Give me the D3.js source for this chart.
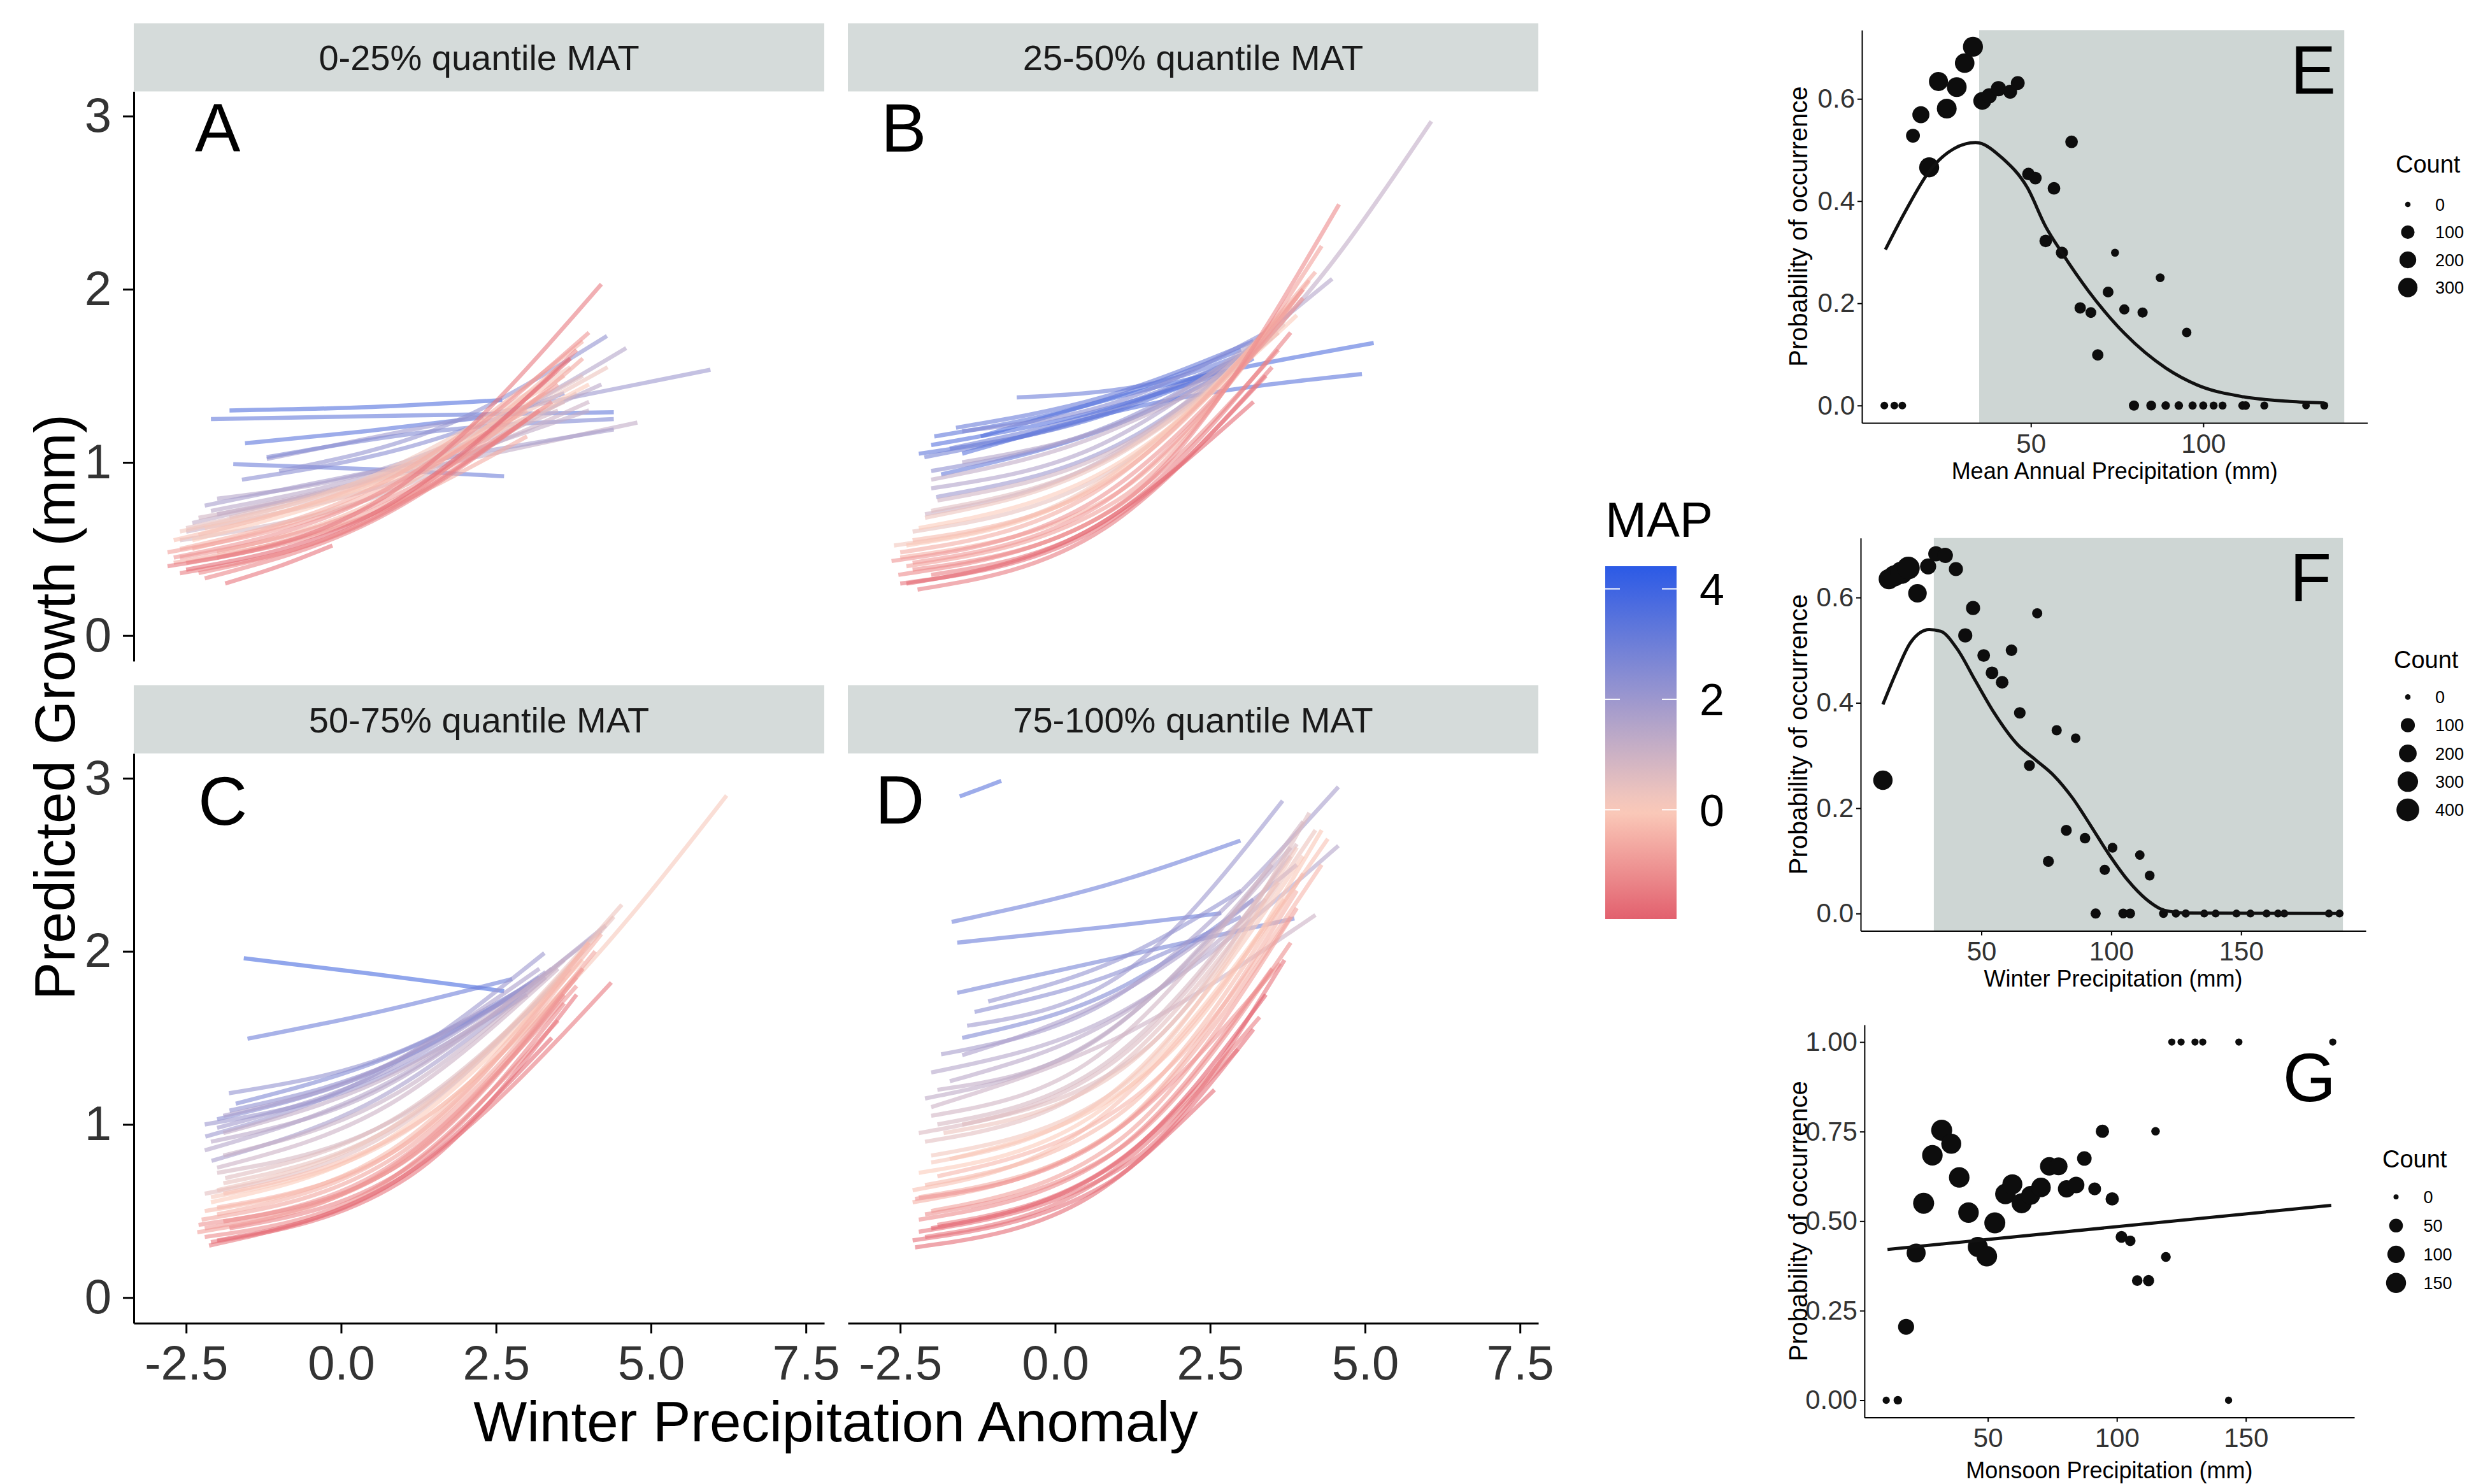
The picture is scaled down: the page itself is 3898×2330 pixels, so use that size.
<!DOCTYPE html>
<html><head><meta charset="utf-8">
<script src="https://cdn.jsdelivr.net/npm/d3@7"></script>
<style>
body{margin:0;background:#fff;}
text{font-family:"Liberation Sans",Arial,Helvetica,sans-serif;}
</style>
</head><body>
<script>
// ===================== DATA =====================
const facetLabels = ["0-25% quantile MAT","25-50% quantile MAT","50-75% quantile MAT","75-100% quantile MAT"];
const facetLetters = ["A","B","C","D"];
const growthXTicks = [-2.5,0,2.5,5,7.5];
const growthXTickLabels = ["-2.5","0.0","2.5","5.0","7.5"];
const growthYTicks = [0,1,2,3];
const growthYTickLabels = ["0","1","2","3"];
const mapLegendTicks = [4,2,0];

// each line: [MAP, x1,y1, x2,y2, x3,y3 (,x4,y4)]  (Winter precip anomaly, predicted growth)
const linesA = [
 [3.6,-1.8,1.30,0.5,1.32,2.6,1.36],
 [3.2,-2.1,1.25,1.0,1.27,4.4,1.29],
 [3.4,-1.55,1.11,0.4,1.18,2.3,1.26],
 [3.0,-1.74,0.99,0.5,0.96,2.63,0.92],
 [2.0,-1.2,1.02,2.4,1.28,5.96,1.535],
 [2.6,-1.2,1.03,1.5,1.18,4.4,1.25],
 [2.4,-1.6,0.90,1.0,1.08,3.6,1.40],
 [2.2,-1.0,0.95,1.6,1.20,4.29,1.73],
 [1.5,-2.0,0.79,1.0,1.00,4.6,1.66],
 [1.4,-2.1,0.72,1.0,0.98,4.2,1.45],
 [1.2,-2.4,0.65,0.8,0.92,4.78,1.23],
 [1.8,-2.2,0.75,1.0,0.98,4.4,1.19],
 [1.0,-2.5,0.60,0.8,0.88,4.0,1.35],
 [0.9,-2.3,0.68,0.5,0.90,3.5,1.30],
 [0.8,-2.6,0.55,0.7,0.82,3.8,1.40],
 [1.2,-2.0,0.70,1.0,0.95,4.0,1.30],
 [0.6,-1.8,0.68,1.0,0.98,3.9,1.50],
 [0.5,-2.5,0.62,0.6,0.90,3.6,1.35],
 [0.3,-2.3,0.58,1.0,0.95,4.3,1.55],
 [0.2,-2.6,0.60,0.5,0.92,3.7,1.55],
 [0.1,-2.2,0.62,0.3,0.85,3.3,1.40],
 [0.0,-2.4,0.55,0.8,0.90,4.0,1.45],
 [-0.2,-2.7,0.55,0.4,0.88,3.6,1.50],
 [-0.3,-2.0,0.48,0.8,0.82,3.5,1.55],
 [-0.4,-2.4,0.50,0.0,0.75,3.0,1.30],
 [-0.5,-2.6,0.50,0.5,0.85,3.9,1.70],
 [-0.6,-2.7,0.42,0.2,0.66,3.0,1.15],
 [-0.7,-2.0,0.45,1.2,0.85,3.9,1.60],
 [-0.8,-2.8,0.48,0.5,0.80,3.5,1.45],
 [-0.9,-2.6,0.45,0.2,0.70,2.8,1.20],
 [-1.0,-2.7,0.45,0.6,0.82,4.0,1.75],
 [-1.0,-2.5,0.42,0.5,0.70,3.4,1.35],
 [-1.2,-2.3,0.36,0.8,0.74,3.8,1.65],
 [-1.3,-2.2,0.33,0.5,0.66,3.2,1.30],
 [-1.4,-2.6,0.36,0.2,0.62,3.0,1.25],
 [-1.5,-2.8,0.40,0.7,0.80,4.2,2.03],
 [-1.6,-1.87,0.30,-1.0,0.40,-0.14,0.52],
 [-1.8,-2.5,0.38,0.6,0.72,3.7,1.60]
];
const linesB = [
 [3.0,-0.62,1.375,1.5,1.45,3.0,1.62],
 [3.3,-1.95,1.15,0.5,1.33,3.0,1.65],
 [3.3,-2.2,1.05,0.3,1.22,3.0,1.58],
 [2.9,-1.7,1.08,0.8,1.30,3.1,1.62],
 [2.8,-2.11,1.03,0.6,1.26,3.1,1.62],
 [3.2,-1.84,0.93,1.0,1.22,3.2,1.60],
 [3.5,-2.0,1.10,0.5,1.28,3.0,1.55],
 [3.1,-1.6,1.20,0.8,1.38,3.2,1.70],
 [3.4,-1.5,1.05,1.7,1.35,4.95,1.51],
 [3.6,-1.2,1.15,1.8,1.45,5.14,1.69],
 [2.5,-1.5,1.18,1.0,1.35,3.4,1.75],
 [2.3,-2.0,0.95,0.8,1.20,3.3,1.68],
 [2.0,-1.92,0.80,1.0,1.10,3.5,1.72],
 [1.6,-2.0,0.85,0.6,1.08,3.3,1.70],
 [1.2,-2.0,0.90,1.0,1.20,3.2,1.65,6.07,2.97],
 [1.5,-1.5,1.00,1.5,1.30,4.47,2.06],
 [1.0,-2.1,0.70,0.7,1.00,3.5,1.78],
 [0.9,-1.9,0.78,1.0,1.08,3.6,1.75],
 [0.6,-2.0,0.72,1.0,1.05,3.7,1.80],
 [0.4,-2.3,0.60,0.9,0.95,3.7,1.82],
 [0.3,-2.1,0.68,0.8,1.00,3.6,1.75],
 [0.2,-2.6,0.52,0.4,0.82,3.8,1.90],
 [0.0,-2.2,0.62,0.8,0.95,3.9,1.85],
 [-0.1,-2.4,0.52,0.6,0.85,3.9,1.95],
 [-0.3,-2.3,0.55,0.8,0.88,4.0,2.00],
 [-0.5,-2.5,0.45,0.8,0.78,4.1,2.05],
 [-0.6,-2.5,0.48,0.6,0.82,4.2,2.10],
 [-0.8,-2.4,0.40,1.0,0.78,4.3,2.25],
 [-0.9,-2.3,0.42,0.7,0.75,4.0,2.00],
 [-1.0,-2.64,0.43,0.5,0.75,4.0,1.95],
 [-1.1,-2.3,0.38,0.6,0.66,3.6,1.65],
 [-1.2,-2.53,0.35,0.9,0.72,4.58,2.49],
 [-1.4,-2.0,0.35,0.8,0.66,3.8,1.75],
 [-1.5,-2.22,0.265,0.8,0.62,3.5,1.55],
 [-1.6,-2.5,0.30,0.6,0.60,3.4,1.50],
 [-1.8,-2.4,0.30,0.5,0.60,3.2,1.35]
];
const linesC = [
 [3.8,-1.57,1.96,0.5,1.87,2.63,1.77],
 [3.0,-1.51,1.495,0.6,1.65,2.76,1.84],
 [2.6,-1.7,1.12,0.7,1.38,3.0,1.78],
 [2.4,-2.0,1.03,0.5,1.30,3.2,1.85],
 [2.3,-1.8,1.08,0.8,1.35,3.1,1.82],
 [2.2,-1.81,1.18,0.8,1.40,3.0,1.80],
 [2.0,-2.19,0.93,0.5,1.28,3.28,1.99],
 [2.0,-2.2,1.00,0.3,1.22,3.0,1.75],
 [1.9,-2.0,0.98,0.8,1.32,3.3,1.88],
 [1.8,-2.09,0.79,0.6,1.15,3.3,1.85],
 [1.7,-1.9,1.05,0.6,1.32,3.2,1.90],
 [1.5,-2.2,0.85,0.8,1.25,4.27,2.15],
 [1.4,-2.1,0.90,0.5,1.18,3.4,1.90],
 [1.2,-1.9,0.95,0.9,1.30,4.2,2.12],
 [1.1,-1.9,0.82,0.9,1.18,3.6,1.95],
 [1.0,-2.0,0.75,0.8,1.12,3.5,1.90],
 [0.8,-2.0,0.72,1.2,1.10,3.7,1.90],
 [0.6,-1.87,0.69,0.8,1.02,3.6,1.85],
 [0.5,-2.2,0.60,0.9,0.98,3.9,2.00],
 [0.4,-1.9,0.66,1.0,1.02,4.4,2.20],
 [0.3,-2.0,0.62,0.8,0.98,4.53,2.27],
 [0.1,-2.1,0.58,1.0,0.95,3.8,1.85,6.22,2.90],
 [0.0,-2.1,0.55,0.6,0.88,3.9,1.95],
 [-0.2,-1.9,0.60,1.4,1.05,3.9,1.90],
 [-0.3,-2.2,0.50,0.8,0.85,4.0,2.05],
 [-0.4,-2.0,0.52,1.1,0.90,4.0,2.05],
 [-0.5,-2.0,0.48,1.0,0.88,4.2,2.10],
 [-0.7,-2.25,0.45,0.9,0.82,4.1,2.00],
 [-0.8,-2.32,0.377,0.8,0.75,3.8,1.85],
 [-0.9,-2.2,0.40,0.9,0.76,3.9,1.90],
 [-1.0,-2.3,0.42,0.6,0.72,3.8,1.80],
 [-1.1,-1.9,0.44,1.0,0.78,3.6,1.75],
 [-1.2,-2.2,0.35,0.5,0.62,3.5,1.60],
 [-1.3,-1.8,0.40,1.2,0.78,3.6,1.70],
 [-1.5,-2.13,0.30,1.0,0.70,4.36,1.82],
 [-1.6,-2.1,0.32,1.1,0.70,3.8,1.75],
 [-1.8,-2.0,0.33,1.0,0.70,3.4,1.50]
];
const linesD = [
 [3.4,-1.54,2.895,-1.2,2.94,-0.87,2.985],
 [3.0,-1.67,2.17,0.8,2.38,2.99,2.64],
 [3.1,-1.58,2.05,0.8,2.14,2.68,2.22],
 [2.8,-1.58,1.76,1.2,1.98,3.86,2.19],
 [2.6,-1.5,1.50,1.0,1.78,3.2,2.30],
 [2.4,-1.3,1.65,0.8,1.85,3.0,2.20],
 [2.2,-1.08,1.71,1.0,1.95,3.0,2.35],
 [2.0,-1.42,1.57,1.0,1.85,3.67,2.87],
 [1.8,-1.84,1.405,0.8,1.70,4.57,2.95],
 [1.7,-1.5,1.40,1.0,1.75,3.9,2.50],
 [1.5,-2.0,1.30,0.8,1.60,4.57,2.61],
 [1.4,-1.7,1.25,1.0,1.62,3.4,2.30],
 [1.3,-2.1,1.15,0.7,1.50,3.8,2.60],
 [1.2,-1.9,1.20,0.5,1.45,3.5,2.50],
 [1.0,-2.0,1.10,1.0,1.50,4.2,2.21],
 [0.9,-2.0,1.05,0.5,1.35,4.0,2.75],
 [0.8,-1.9,1.00,0.8,1.35,3.8,2.55],
 [0.7,-2.2,0.95,0.9,1.35,3.9,2.62],
 [0.6,-1.5,1.00,1.5,1.45,4.1,2.80],
 [0.5,-2.1,0.90,0.6,1.22,3.6,2.40],
 [0.3,-1.8,0.95,1.0,1.30,4.2,2.70],
 [0.2,-2.0,0.82,1.0,1.20,3.9,2.60],
 [0.1,-2.0,0.78,0.8,1.15,4.0,2.55],
 [0.0,-2.2,0.72,0.6,1.05,3.7,2.30],
 [-0.1,-1.7,0.80,1.8,1.40,4.3,2.70],
 [-0.2,-2.3,0.62,0.5,0.98,4.4,2.65],
 [-0.3,-2.1,0.65,1.0,1.05,4.0,2.45],
 [-0.4,-1.9,0.70,1.6,1.25,4.3,2.50],
 [-0.5,-2.3,0.55,0.9,0.95,3.9,2.35],
 [-0.6,-2.2,0.58,0.8,0.92,3.8,2.20],
 [-0.8,-2.0,0.50,1.0,0.90,3.9,2.25],
 [-1.0,-2.26,0.57,0.5,0.85,3.63,1.93],
 [-1.1,-2.1,0.48,1.0,0.85,3.8,2.05],
 [-1.2,-2.2,0.45,0.8,0.80,3.5,1.90],
 [-1.4,-1.9,0.42,0.9,0.76,3.3,1.62],
 [-1.5,-2.1,0.35,0.6,0.65,2.95,1.435],
 [-1.6,-2.2,0.38,1.2,0.78,3.7,1.95],
 [-1.7,-2.3,0.33,0.8,0.65,3.2,1.55],
 [-1.8,-2.26,0.29,0.4,0.55,2.57,1.20],
 [-2.0,-2.0,0.40,1.0,0.78,3.4,1.75]
];

// Panel E: Mean Annual Precipitation
const eX = [7.5,10.4,12.7,15.8,18.1,20.5,23.2,25.6,28.5,30.8,33.2,35.9,37.9,40.6,44.0,46.2,49.3,51.3,56.7,61.8,54.3,59.0,74.4,64.3,67.4,72.4,69.4,77.1,82.4,87.5,95.2,79.9,84.9,89.1,92.9,96.9,100.0,103.0,105.6,111.4,112.3,117.7,129.8,135.1];
const eY = [0,0,0,0.528,0.569,0.466,0.634,0.581,0.623,0.670,0.702,0.596,0.606,0.620,0.614,0.631,0.453,0.445,0.425,0.516,0.322,0.299,0.299,0.191,0.182,0.222,0.099,0.188,0.182,0.250,0.143,0,0,0,0,0,0,0,0,0,0,0,0,0];
const eCount = [8,8,8,110,210,330,290,320,320,310,330,240,150,150,110,110,80,80,80,80,80,70,10,55,45,45,55,35,35,18,25,35,30,15,15,12,12,10,10,15,15,10,7,10];
const eCurveX = [7.8,13.6,20.5,27.8,34.0,41.8,49.0,54.3,58.9,66.7,77.3,89.2,98.3,111.7,125.1,135.1];
const eCurveY = [0.305,0.380,0.458,0.503,0.5145,0.4835,0.426,0.350,0.300,0.224,0.140,0.073,0.040,0.017,0.008,0.005];
const eShade = [35.0,140.9];
const eXTicks = [50,100], eXTickLabels = ["50","100"];
const eYTicks = [0,0.2,0.4,0.6], eYTickLabels = ["0.0","0.2","0.4","0.6"];
const eLegend = [0,100,200,300];

// Panel F: Winter Precipitation
const fX = [12.1,14.4,16.5,19.2,21.9,25.4,29.5,32.5,36.1,40.2,46.8,43.8,50.9,54.1,58.0,61.6,71.5,64.8,79.0,86.3,68.5,82.7,89.9,75.8,100.5,97.5,111.0,114.8,94.0,104.6,107.3,120.1,124.9,128.7,135.8,140.2,148.2,153.6,159.8,164.2,166.6,183.8,187.9];
const fY = [0.253,0.635,0.641,0.647,0.656,0.608,0.659,0.683,0.680,0.654,0.580,0.528,0.490,0.457,0.439,0.500,0.570,0.381,0.348,0.333,0.281,0.158,0.143,0.099,0.125,0.083,0.111,0.072,0,0,0,0,0,0,0,0,0,0,0,0,0,0,0];
const fCount = [260,300,330,380,400,230,150,130,130,100,100,100,70,70,70,50,30,50,30,22,40,40,35,40,25,30,22,25,30,25,25,15,10,10,8,8,8,8,8,8,8,8,8];
const fCurveX = [12.1,17.4,22.8,29.9,34.3,40.6,47.7,54.8,63.7,70.8,77.9,85.0,92.2,99.3,106.4,113.5,120.6,129.5,188.3];
const fCurveY = [0.397,0.460,0.515,0.539,0.536,0.503,0.442,0.382,0.322,0.292,0.262,0.220,0.166,0.111,0.063,0.027,0.006,0.001,0];
const fShade = [31.7,189.2];
const fXTicks = [50,100,150], fXTickLabels = ["50","100","150"];
const fYTicks = [0,0.2,0.4,0.6], fYTickLabels = ["0.0","0.2","0.4","0.6"];
const fLegend = [0,100,200,300,400];

// Panel G: Monsoon Precipitation
const gX = [10.6,15.1,18.3,22.2,25.1,28.5,32.1,35.8,38.9,42.5,46.1,49.6,52.7,56.8,59.5,63.1,66.6,70.6,73.8,77.4,80.5,84.2,87.4,91.4,94.4,98.2,101.8,105.2,107.9,112.3,115.0,119.0,121.3,124.9,130.3,133.3,147.3,183.7,143.3];
const gY = [0,0,0.205,0.411,0.550,0.684,0.754,0.716,0.622,0.524,0.428,0.402,0.495,0.576,0.603,0.550,0.572,0.594,0.653,0.653,0.590,0.601,0.675,0.590,0.751,0.562,0.456,0.445,0.334,0.334,0.751,0.400,1,1,1,1,1,1,0];
const gCount = [3,8,80,130,170,160,170,150,160,160,150,160,170,160,150,150,130,140,120,110,100,90,60,40,45,45,30,20,20,25,8,15,3,3,3,3,3,3,3];
const gLineX = [11.1,183.1];
const gLineY = [0.421,0.544];
const gXTicks = [50,100,150], gXTickLabels = ["50","100","150"];
const gYTicks = [0,0.25,0.5,0.75,1], gYTickLabels = ["0.00","0.25","0.50","0.75","1.00"];
const gLegend = [0,50,100,150];

// ===================== DRAWING =====================
const W = 3898, H = 2330;
const svg = d3.select("body").append("svg").attr("width", W).attr("height", H);
svg.append("rect").attr("width", W).attr("height", H).attr("fill", "#fff");

const FONT = '"Liberation Sans",Arial,Helvetica,sans-serif';
const STRIP = "#D5DBDA";
const pw = 1084, ph = 894.5, stripH = 107;
const panelPos = [[210,143.5],[1331,143.5],[210,1183],[1331,1183]];
const letterPos = [[306,238],[1383,238],[311,1295],[1374,1293]];
const allLines = [linesA, linesB, linesC, linesD];

const x = d3.scaleLinear().domain([-3.345, 7.796]).range([0, pw]);
const y = d3.scaleLinear().domain([-0.148, 3.143]).range([ph, 0]);
const color = d3.scaleLinear().domain([-1.98, 0, 4.41])
  .range(["#E2606E", "#FBCBBA", "#2B5AE6"]).interpolate(d3.interpolateRgb);
const lineGen = d3.line().x(d => x(d[0])).y(d => y(d[1])).curve(d3.curveMonotoneX);

function toPts(row) {
  const pts = [];
  for (let i = 1; i < row.length; i += 2) pts.push([row[i], row[i+1]]);
  return pts;
}

function styleAxis(a, sw, fs, tc) {
  a.select(".domain").attr("stroke", "#000").attr("stroke-width", sw);
  a.selectAll(".tick line").attr("stroke", "#000").attr("stroke-width", sw);
  a.selectAll(".tick text").attr("font-size", fs).attr("fill", tc).attr("font-family", FONT);
}

allLines.forEach((lines, i) => {
  const [px, py] = panelPos[i];
  const g = svg.append("g").attr("transform", `translate(${px},${py})`);
  // strip
  g.append("rect").attr("x", 0).attr("y", -stripH).attr("width", pw).attr("height", stripH).attr("fill", STRIP);
  g.append("text").attr("x", pw/2).attr("y", -stripH/2).attr("dy", "0.36em")
    .attr("text-anchor", "middle").attr("font-size", 56).attr("fill", "#1a1a1a").text(facetLabels[i]);
  // lines
  g.append("g").selectAll("path").data(lines).join("path")
    .attr("d", r => lineGen(toPts(r)))
    .attr("fill", "none")
    .attr("stroke", r => color(r[0]))
    .attr("stroke-width", 6.5)
    .attr("stroke-opacity", 0.6);
  // axes
  if (i === 0 || i === 2) {
    const ay = g.append("g").call(d3.axisLeft(y).tickValues(growthYTicks)
      .tickFormat((d, k) => growthYTickLabels[k]).tickSize(17).tickSizeOuter(0).tickPadding(18));
    styleAxis(ay, 3, 76, "#333");
  }
  if (i === 2 || i === 3) {
    const ax = g.append("g").attr("transform", `translate(0,${ph})`)
      .call(d3.axisBottom(x).tickValues(growthXTicks)
      .tickFormat((d, k) => growthXTickLabels[k]).tickSize(16).tickSizeOuter(0).tickPadding(19));
    styleAxis(ax, 3, 76, "#333");
  }
  svg.append("text").attr("x", letterPos[i][0]).attr("y", letterPos[i][1])
    .attr("font-size", 107).attr("fill", "#000").text(facetLetters[i]);
});

// axis titles
svg.append("text").attr("x", 1312).attr("y", 2263).attr("text-anchor", "middle")
  .attr("font-size", 89).attr("fill", "#000").text("Winter Precipitation Anomaly");
svg.append("text").attr("transform", "translate(117,1110) rotate(-90)").attr("text-anchor", "middle")
  .attr("font-size", 89).attr("fill", "#000").text("Predicted Growth (mm)");

// MAP colour bar
const cbX = 2520, cbW = 112, cbTop = 889, cbBot = 1443;
const cbScale = d3.scaleLinear().domain([-1.98, 4.41]).range([cbBot, cbTop]);
const defs = svg.append("defs");
const grad = defs.append("linearGradient").attr("id", "mapgrad")
  .attr("x1", 0).attr("y1", 1).attr("x2", 0).attr("y2", 0);
d3.range(0, 1.0001, 0.05).forEach(t => {
  const v = -1.98 + t * (4.41 + 1.98);
  grad.append("stop").attr("offset", t).attr("stop-color", color(v));
});
svg.append("rect").attr("x", cbX).attr("y", cbTop).attr("width", cbW).attr("height", cbBot - cbTop)
  .attr("fill", "url(#mapgrad)");
mapLegendTicks.forEach(v => {
  const yy = cbScale(v);
  svg.append("line").attr("x1", cbX).attr("x2", cbX + 23).attr("y1", yy).attr("y2", yy)
    .attr("stroke", "#fff").attr("stroke-width", 2);
  svg.append("line").attr("x1", cbX + cbW - 23).attr("x2", cbX + cbW).attr("y1", yy).attr("y2", yy)
    .attr("stroke", "#fff").attr("stroke-width", 2);
  svg.append("text").attr("x", 2668).attr("y", yy).attr("dy", "0.36em")
    .attr("font-size", 70).attr("fill", "#000").text(v);
});
svg.append("text").attr("x", 2520).attr("y", 843).attr("font-size", 78).attr("fill", "#000").text("MAP");

// ---------- probability panels ----------
function probPanel(cfg) {
  const xs = d3.scaleLinear().domain(cfg.xDomain).range([cfg.left, cfg.right]);
  const ys = d3.scaleLinear().domain(cfg.yDomain).range([cfg.bottom, cfg.top]);
  const rs = d3.scaleSqrt().domain([0, cfg.rMax]).range(cfg.rRange);
  const g = svg.append("g");
  if (cfg.shade) {
    g.append("rect").attr("x", xs(cfg.shade[0])).attr("y", cfg.top)
      .attr("width", xs(cfg.shade[1]) - xs(cfg.shade[0])).attr("height", cfg.bottom - cfg.top)
      .attr("fill", "#CED6D4");
  }
  const pts = cfg.px.map((v, i) => ({x: v, y: cfg.py[i], c: cfg.pc[i]}));
  g.append("g").selectAll("circle").data(pts).join("circle")
    .attr("cx", d => xs(d.x)).attr("cy", d => ys(d.y)).attr("r", d => rs(d.c))
    .attr("fill", "#0d0d0d");
  const cpts = cfg.cx.map((v, i) => [v, cfg.cy[i]]);
  g.append("path").attr("d", d3.line().x(d => xs(d[0])).y(d => ys(d[1])).curve(d3.curveMonotoneX)(cpts))
    .attr("fill", "none").attr("stroke", "#111").attr("stroke-width", 5);
  const ay = g.append("g").attr("transform", `translate(${cfg.left},0)`)
    .call(d3.axisLeft(ys).tickValues(cfg.yTicks).tickFormat((d, k) => cfg.yLabels[k])
      .tickSize(7).tickSizeOuter(0).tickPadding(4));
  styleAxis(ay, 2, 42, "#333");
  const ax = g.append("g").attr("transform", `translate(0,${cfg.bottom})`)
    .call(d3.axisBottom(xs).tickValues(cfg.xTicks).tickFormat((d, k) => cfg.xLabels[k])
      .tickSize(7).tickSizeOuter(0).tickPadding(10));
  styleAxis(ax, 2, 42, "#333");
  g.append("text").attr("x", (cfg.left + cfg.right) / 2).attr("y", cfg.xTitleY).attr("text-anchor", "middle")
    .attr("font-size", 36).attr("fill", "#000").text(cfg.xTitle);
  g.append("text").attr("transform", `translate(2837,${(cfg.top + cfg.bottom) / 2}) rotate(-90)`)
    .attr("text-anchor", "middle").attr("font-size", 40).attr("fill", "#000").text("Probability of occurrence");
  g.append("text").attr("x", cfg.letterX).attr("y", cfg.letterY).attr("text-anchor", "end")
    .attr("font-size", 107).attr("fill", "#000").text(cfg.letter);
  // size legend
  g.append("text").attr("x", cfg.legX).attr("y", cfg.legTitleY).attr("font-size", 38).attr("fill", "#000").text("Count");
  cfg.legend.forEach((v, k) => {
    const yy = cfg.legY0 + k * cfg.legStep;
    g.append("circle").attr("cx", cfg.legDotX).attr("cy", yy).attr("r", rs(v)).attr("fill", "#0d0d0d");
    g.append("text").attr("x", cfg.legDotX + 43).attr("y", yy).attr("dy", "0.36em")
      .attr("font-size", 27).attr("fill", "#000").text(v);
  });
}

probPanel({
  left: 2923, right: 3716.5, top: 47.3, bottom: 664,
  xDomain: [1.0, 147.6], yDomain: [-0.034, 0.7345],
  rMax: 330, rRange: [4.3, 15.7], shade: eShade,
  px: eX, py: eY, pc: eCount, cx: eCurveX, cy: eCurveY,
  xTicks: eXTicks, xLabels: eXTickLabels, yTicks: eYTicks, yLabels: eYTickLabels,
  xTitle: "Mean Annual Precipitation (mm)", xTitleY: 752,
  letter: "E", letterX: 3667, letterY: 147,
  legX: 3761, legTitleY: 271, legend: eLegend, legDotX: 3780, legY0: 321, legStep: 43.5
});
probPanel({
  left: 2921, right: 3714, top: 844.7, bottom: 1461.6,
  xDomain: [3.53, 198.0], yDomain: [-0.033, 0.713],
  rMax: 420, rRange: [4.3, 18.2], shade: fShade,
  px: fX, py: fY, pc: fCount, cx: fCurveX, cy: fCurveY,
  xTicks: fXTicks, xLabels: fXTickLabels, yTicks: fYTicks, yLabels: fYTickLabels,
  xTitle: "Winter Precipitation (mm)", xTitleY: 1549,
  letter: "F", letterX: 3660, letterY: 944,
  legX: 3758, legTitleY: 1049, legend: fLegend, legDotX: 3780, legY0: 1094.4, legStep: 44.3
});
probPanel({
  left: 2926.9, right: 3696, top: 1609.1, bottom: 2225.5,
  xDomain: [2.15, 192.05], yDomain: [-0.048, 1.048],
  rMax: 170, rRange: [4.0, 16.5], shade: null,
  px: gX, py: gY, pc: gCount, cx: gLineX, cy: gLineY,
  xTicks: gXTicks, xLabels: gXTickLabels, yTicks: gYTicks, yLabels: gYTickLabels,
  xTitle: "Monsoon Precipitation (mm)", xTitleY: 2321,
  letter: "G", letterX: 3667, letterY: 1729,
  legX: 3740, legTitleY: 1833, legend: gLegend, legDotX: 3761.5, legY0: 1879.3, legStep: 45
});
</script>
</body></html>
